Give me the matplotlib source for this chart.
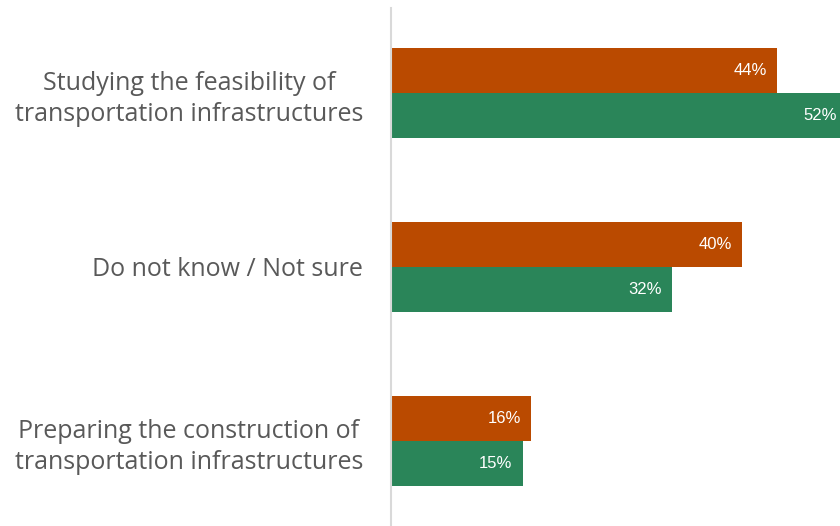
import matplotlib.pyplot as plt
import numpy as np

categories = ["Studying the feasibility of\ntransportation infrastructures",
              "Do not know / Not sure",
              "Preparing the construction of\ntransportation infrastructures"]
series_a = [44, 40, 16]   # orange
series_b = [52, 32, 15]   # green
colors = ["#BA4A00", "#2A8559"]

plt.rcParams['font.family'] = ['Open Sans', 'DejaVu Sans']

fig = plt.figure(figsize=(8.4, 5.26), dpi=100)
ax = fig.add_axes([391 / 840, 0, 1 - 391 / 840, 1 - 8 / 526])

y = np.arange(len(categories))
h = 45 / 174
bars_a = ax.barh(y - h / 2, series_a, height=h, color=colors[0])
bars_b = ax.barh(y + h / 2, series_b, height=h, color=colors[1])

for bars, vals in [(bars_a, series_a), (bars_b, series_b)]:
    for b, v in zip(bars, vals):
        ax.annotate(f"{v}%", (b.get_width(), b.get_y() + b.get_height() / 2),
                    xytext=(-7.5, 0), textcoords="offset points",
                    ha="right", va="center", color="white", fontsize=12,
                    family="Liberation Sans", annotation_clip=False)

ax.set_xlim(0, 449 / 8.78)
ax.set_ylim(2.489, -0.489)
ax.set_yticks(y)
ax.set_yticklabels(categories, fontsize=18, color="#595959",
                   multialignment="center", linespacing=1.3)
ax.tick_params(axis="y", length=0, pad=20)
ax.set_xticks([])
for s in ["top", "right", "bottom"]:
    ax.spines[s].set_visible(False)
ax.spines["left"].set_color("#D9D9D9")
ax.spines["left"].set_linewidth(1.5)

fig.savefig("out.png", dpi=100)
